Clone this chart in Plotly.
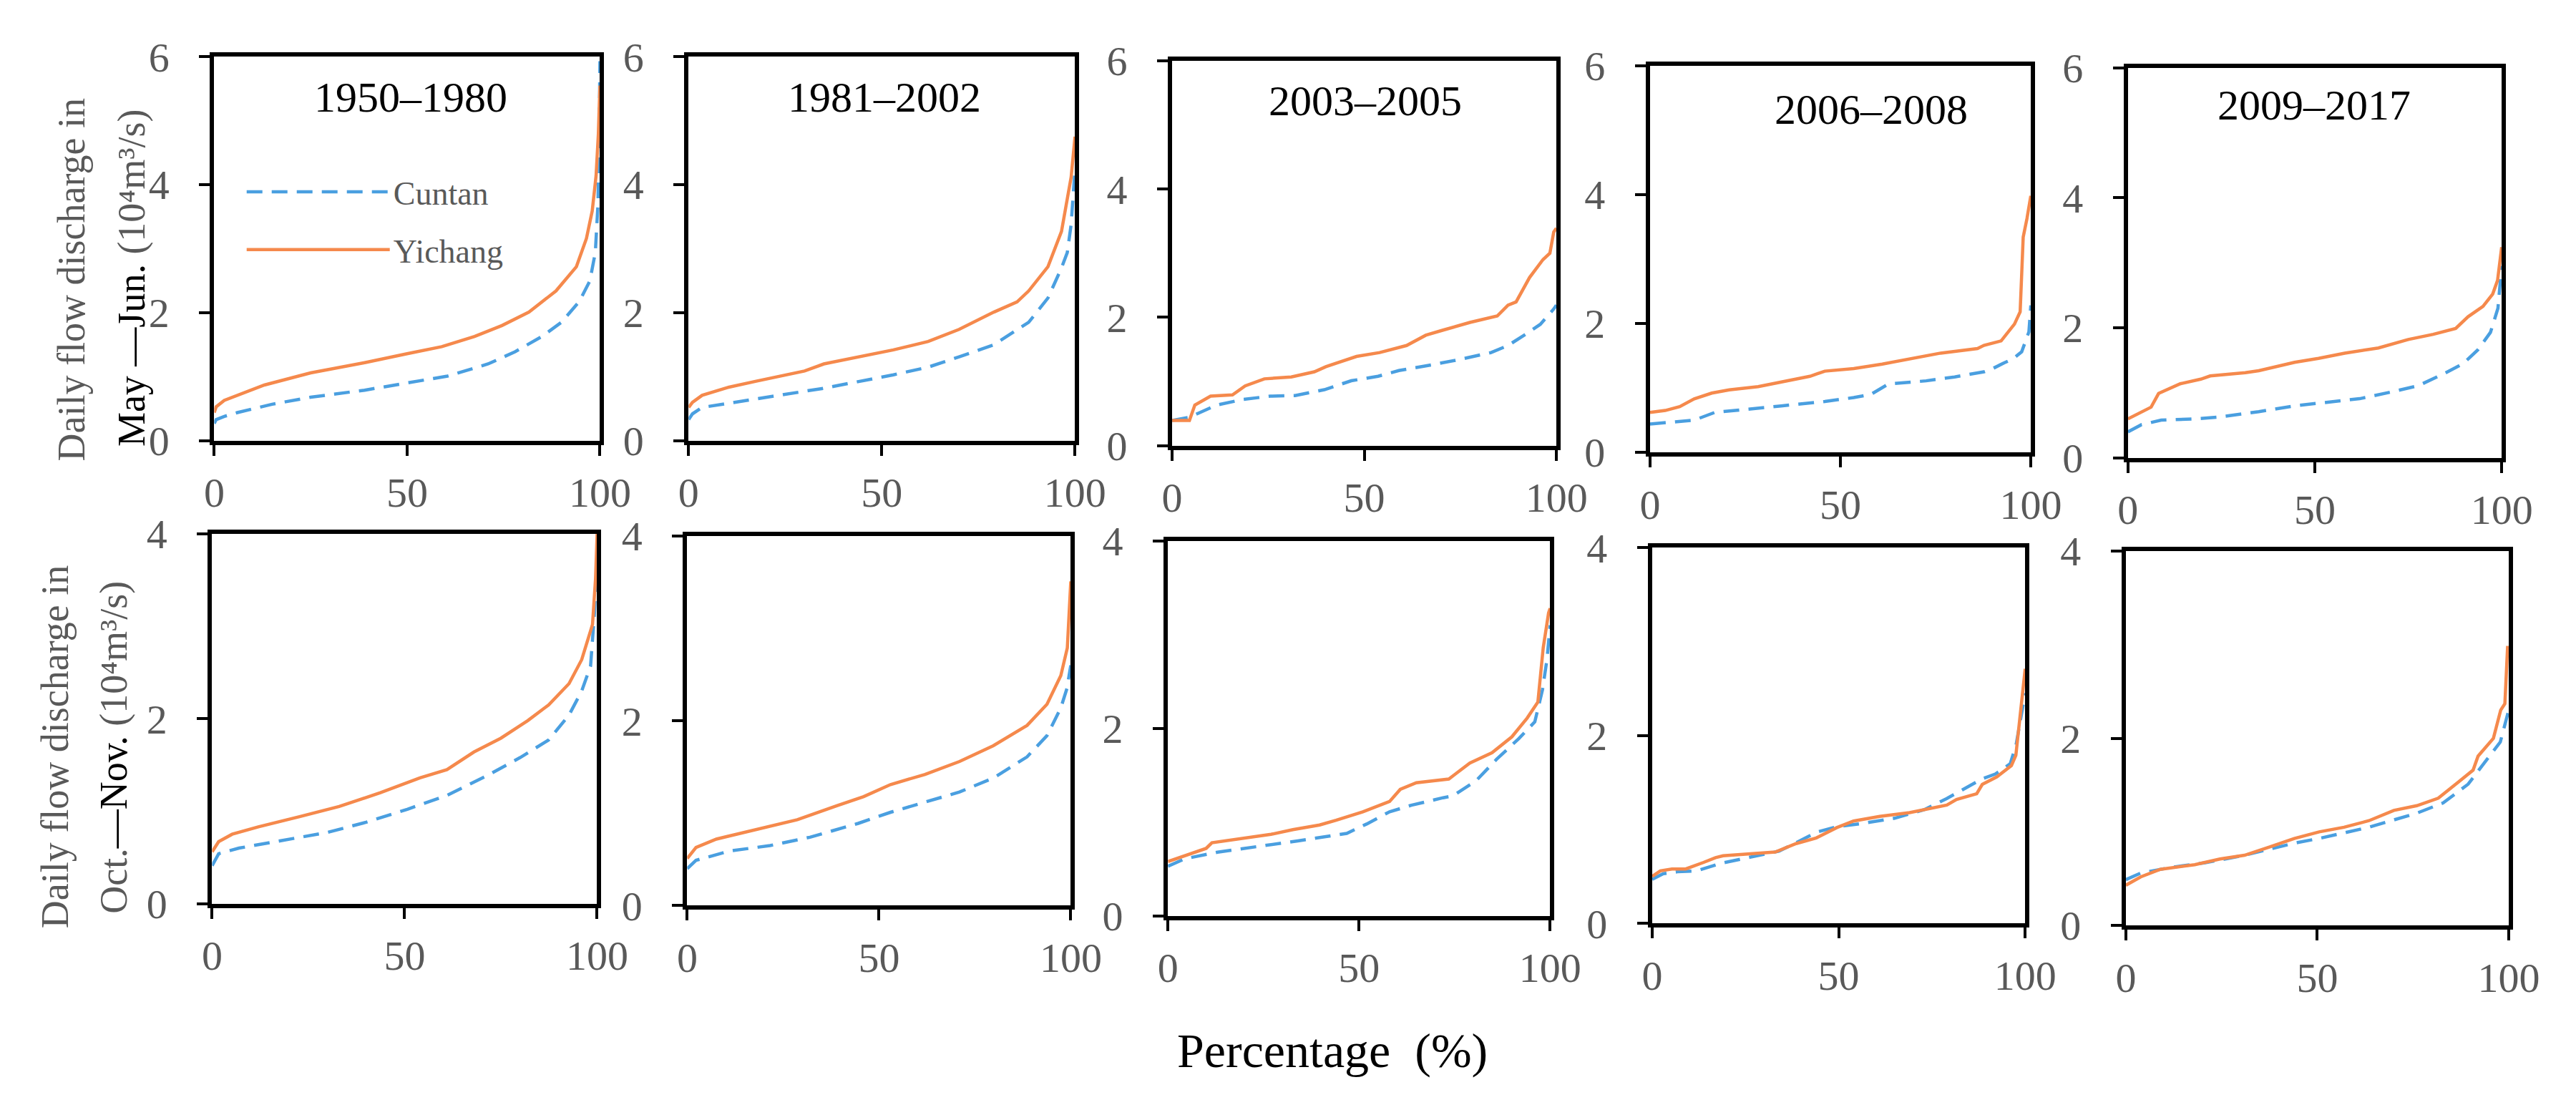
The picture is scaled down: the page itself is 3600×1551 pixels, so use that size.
import plotly.graph_objects as go

W, H = 3600, 1551

# ---------------- data (percentage of time, discharge in 10^4 m3/s) ----------------
periods = ["1950–1980", "1981–2002", "2003–2005", "2006–2008", "2009–2017"]
x_ticks = [0, 50, 100]
y_ticks_top = [0, 2, 4, 6]
y_ticks_bottom = [0, 2, 4]

# Row 1: May–Jun.
r1p1_y_x = [0, 0.5, 2.6, 6, 13, 25, 39, 50, 59, 67.5, 74.6, 81.6, 88.6, 93.9, 96.5, 98, 99, 99.6, 100]
r1p1_y_q = [0.44, 0.53, 0.63, 0.71, 0.87, 1.06, 1.22, 1.36, 1.47, 1.63, 1.80, 2.01, 2.34, 2.72, 3.16, 3.59, 4.14, 4.8, 5.55]
r1p1_c_x = [0, 0.5, 2.6, 6, 15, 25, 39, 50, 60.5, 71, 78, 85, 90, 94.7, 97.4, 98.8, 99.5, 99.8, 100]
r1p1_c_q = [0.27, 0.33, 0.38, 0.44, 0.57, 0.68, 0.79, 0.90, 1.01, 1.20, 1.39, 1.63, 1.85, 2.18, 2.50, 2.94, 3.70, 4.79, 5.93]

r1p2_y_x = [0, 1, 3.5, 10, 17.5, 30, 35, 45, 53, 62, 70, 79, 85, 88, 93, 96.5, 99, 100]
r1p2_y_q = [0.52, 0.6, 0.71, 0.83, 0.93, 1.09, 1.20, 1.32, 1.42, 1.55, 1.74, 2.01, 2.17, 2.34, 2.72, 3.27, 4.12, 4.75]
r1p2_c_x = [0, 1, 3.5, 10, 17.5, 35, 53, 62, 70, 79, 88, 93, 96.5, 98, 99, 100]
r1p2_c_q = [0.33, 0.42, 0.52, 0.58, 0.65, 0.82, 1.03, 1.15, 1.31, 1.50, 1.85, 2.23, 2.70, 2.94, 3.38, 4.25]

r1p3_y_x = [0, 4.5, 5.9, 10, 15.7, 19, 24, 31, 37, 40, 48, 54, 61, 66, 70.5, 77.5, 84.6, 87.4, 89.5, 93, 96.5, 98.3, 99.3, 100]
r1p3_y_q = [0.39, 0.39, 0.63, 0.77, 0.79, 0.93, 1.04, 1.07, 1.15, 1.23, 1.39, 1.45, 1.56, 1.72, 1.80, 1.92, 2.02, 2.19, 2.24, 2.62, 2.90, 3.00, 3.33, 3.39]
r1p3_c_x = [0, 4.5, 11.5, 18.5, 25.6, 32, 39.6, 46.6, 53.6, 59, 67.7, 74.7, 83, 87.4, 91.6, 95.8, 99.3, 100]
r1p3_c_q = [0.39, 0.44, 0.63, 0.72, 0.77, 0.78, 0.87, 1.01, 1.08, 1.17, 1.26, 1.34, 1.45, 1.56, 1.72, 1.89, 2.13, 2.19]

r1p4_y_x = [0, 4, 7.8, 11.6, 16.2, 20.8, 28.4, 34.4, 42, 45.9, 53.5, 61, 68.7, 76.3, 86, 87.7, 92.2, 93.4, 95.7, 97.2, 98, 99, 100]
r1p4_y_q = [0.62, 0.65, 0.71, 0.83, 0.92, 0.97, 1.02, 1.09, 1.18, 1.26, 1.30, 1.37, 1.45, 1.54, 1.61, 1.66, 1.73, 1.82, 1.99, 2.18, 3.34, 3.63, 3.98]
r1p4_c_x = [0, 11.6, 17, 26.8, 34.4, 45.9, 53.5, 58, 62.6, 72.5, 80, 87.7, 90, 93, 95.3, 97.6, 98.7, 99.5, 100]
r1p4_c_q = [0.44, 0.50, 0.62, 0.67, 0.72, 0.79, 0.85, 0.90, 1.06, 1.11, 1.17, 1.25, 1.30, 1.39, 1.45, 1.56, 1.75, 1.87, 2.28]

r1p5_y_x = [0, 3.6, 6.2, 8.2, 11.5, 14, 19.5, 22, 31.4, 35, 44.6, 51, 58, 67, 75, 81.7, 87.7, 91, 95, 97.6, 98.9, 100]
r1p5_y_q = [0.60, 0.70, 0.78, 0.99, 1.07, 1.14, 1.21, 1.26, 1.31, 1.34, 1.47, 1.53, 1.61, 1.69, 1.82, 1.90, 1.99, 2.17, 2.33, 2.52, 2.73, 3.24]
r1p5_c_x = [0, 3.6, 8.9, 18, 24.8, 35, 44.6, 51, 62, 71, 77.7, 84.4, 89.7, 93.6, 97, 99, 100]
r1p5_c_q = [0.40, 0.51, 0.58, 0.60, 0.63, 0.71, 0.80, 0.84, 0.91, 1.02, 1.11, 1.29, 1.45, 1.66, 1.93, 2.30, 2.95]

# Row 2: Oct.–Nov.
r2p1_y_x = [0, 1.7, 5.2, 12, 22.7, 33, 43.7, 54, 61, 68, 75, 82, 87.4, 92.7, 96, 98.8, 99.6, 100]
r2p1_y_q = [0.56, 0.67, 0.75, 0.83, 0.94, 1.05, 1.20, 1.36, 1.45, 1.64, 1.79, 1.98, 2.15, 2.38, 2.64, 3.02, 3.52, 4.0]
r2p1_c_x = [0, 1.7, 7, 19, 30, 40, 50.7, 61, 71.7, 80, 87.4, 92.7, 96, 98.3, 99.3, 100]
r2p1_c_q = [0.41, 0.54, 0.60, 0.69, 0.77, 0.88, 1.02, 1.17, 1.39, 1.58, 1.77, 2.04, 2.30, 2.57, 3.14, 3.75]

r2p2_y_x = [0, 2.3, 7.6, 18, 28.7, 39, 46, 53, 62, 71, 79.8, 88.6, 93.8, 97.4, 99.1, 100]
r2p2_y_q = [0.51, 0.63, 0.72, 0.82, 0.93, 1.08, 1.18, 1.31, 1.42, 1.56, 1.73, 1.95, 2.18, 2.49, 2.79, 3.51]
r2p2_c_x = [0, 2.3, 11, 21.6, 32, 44.6, 53, 62, 71, 79.8, 88.6, 93.8, 97.4, 99, 100]
r2p2_c_q = [0.40, 0.49, 0.59, 0.65, 0.74, 0.89, 1.01, 1.12, 1.23, 1.38, 1.61, 1.84, 2.14, 2.35, 2.6]

r2p3_y_x = [0, 4.5, 10, 11.5, 18.6, 27, 32.7, 39.7, 44, 51, 58, 60.8, 65, 73.5, 79, 84.8, 90, 94, 96.8, 98.2, 99.6, 100]
r2p3_y_q = [0.58, 0.64, 0.72, 0.78, 0.82, 0.87, 0.92, 0.97, 1.02, 1.11, 1.22, 1.35, 1.42, 1.46, 1.63, 1.74, 1.91, 2.11, 2.28, 2.86, 3.23, 3.28]
r2p3_c_x = [0, 4.5, 13, 24, 34, 46.8, 52, 58, 63.7, 72, 74.6, 80.6, 86, 91.8, 96, 98, 99.2, 100]
r2p3_c_q = [0.53, 0.61, 0.68, 0.74, 0.80, 0.88, 0.98, 1.11, 1.18, 1.26, 1.28, 1.44, 1.67, 1.89, 2.07, 2.41, 2.74, 3.1]

r2p4_y_x = [0, 2.2, 5.3, 9, 13.8, 17, 19, 26, 33, 38.6, 44, 49.5, 54, 61, 69, 79, 81.6, 87, 88.5, 92.4, 96.3, 97.5, 98.2, 99, 100]
r2p4_y_q = [0.50, 0.56, 0.58, 0.58, 0.65, 0.70, 0.72, 0.74, 0.76, 0.85, 0.91, 1.02, 1.09, 1.14, 1.18, 1.26, 1.32, 1.38, 1.48, 1.56, 1.68, 1.79, 2.06, 2.36, 2.71]
r2p4_c_x = [0, 3, 6.8, 12, 18.4, 26, 34, 38.6, 44, 49.5, 55.6, 65, 72.9, 79, 84, 88.5, 92, 96, 97.6, 99, 100]
r2p4_c_q = [0.47, 0.53, 0.55, 0.56, 0.64, 0.70, 0.77, 0.86, 0.97, 1.03, 1.06, 1.12, 1.21, 1.33, 1.44, 1.54, 1.59, 1.70, 1.91, 2.24, 2.45]

r2p5_y_x = [0, 3.9, 9, 18, 24.6, 31, 37.6, 44, 50.5, 57, 63.5, 70, 76, 81.6, 86.8, 90.7, 92, 96, 97.9, 99, 99.7, 100]
r2p5_y_q = [0.43, 0.52, 0.60, 0.65, 0.71, 0.75, 0.84, 0.93, 1.00, 1.05, 1.12, 1.23, 1.28, 1.36, 1.53, 1.66, 1.81, 2.00, 2.30, 2.37, 2.97, 2.97]
r2p5_c_x = [0, 3.9, 11.7, 20.7, 31, 44, 50.5, 63.5, 76, 82.9, 89.4, 94.6, 97.8, 100]
r2p5_c_q = [0.49, 0.56, 0.62, 0.67, 0.75, 0.88, 0.93, 1.05, 1.20, 1.31, 1.51, 1.78, 1.96, 2.30]

series = [
    [(r1p1_c_x, r1p1_c_q, r1p1_y_x, r1p1_y_q), (r1p2_c_x, r1p2_c_q, r1p2_y_x, r1p2_y_q),
     (r1p3_c_x, r1p3_c_q, r1p3_y_x, r1p3_y_q), (r1p4_c_x, r1p4_c_q, r1p4_y_x, r1p4_y_q),
     (r1p5_c_x, r1p5_c_q, r1p5_y_x, r1p5_y_q)],
    [(r2p1_c_x, r2p1_c_q, r2p1_y_x, r2p1_y_q), (r2p2_c_x, r2p2_c_q, r2p2_y_x, r2p2_y_q),
     (r2p3_c_x, r2p3_c_q, r2p3_y_x, r2p3_y_q), (r2p4_c_x, r2p4_c_q, r2p4_y_x, r2p4_y_q),
     (r2p5_c_x, r2p5_c_q, r2p5_y_x, r2p5_y_q)],
]

# ---------------- layout geometry (pixels: left, right, top, bottom) ----------------
boxes = [
    [(281, 829, 41, 601), (955, 1504, 41, 601), (1642, 2188, 47, 608), (2321, 2862, 54, 618), (3000, 3531, 57, 626)],
    [(278, 825, 737, 1276), (953, 1498, 740, 1279), (1636, 2179, 747, 1294), (2324, 2854, 757, 1305), (2997, 3541, 762, 1308)],
]
title_pos = [(560, 100), (1233, 100), (1916, 105), (2635, 118), (3265, 112)]

SERIF = "Liberation Serif, Times New Roman, serif"
GRAY = "#595959"
BLUE = "#4A9FE0"
ORANGE = "#F5894C"

fig = go.Figure()
layout = {}
idx = 0
for r in range(2):
    for c in range(5):
        idx += 1
        sfx = "" if idx == 1 else str(idx)
        cx, cq, yx, yq = series[r][c]
        first = (idx == 1)
        fig.add_trace(go.Scatter(x=cx, y=cq, mode="lines", name="Cuntan",
                                 line=dict(color=BLUE, width=4.5, dash="22px,13px"),
                                 xaxis="x" + sfx, yaxis="y" + sfx, showlegend=first,
                                 legendgroup="c", legendrank=1))
        fig.add_trace(go.Scatter(x=yx, y=yq, mode="lines", name="Yichang",
                                 line=dict(color=ORANGE, width=4.5),
                                 xaxis="x" + sfx, yaxis="y" + sfx, showlegend=first,
                                 legendgroup="y", legendrank=2))
        x0, x1, y0, y1 = boxes[r][c]
        common = dict(showline=True, linewidth=6, linecolor="black", mirror=True,
                      ticks="outside", ticklen=15, tickwidth=4, tickcolor="black",
                      showgrid=False, zeroline=False,
                      tickfont=dict(family=SERIF, size=58, color=GRAY))
        layout["xaxis" + sfx] = dict(domain=[x0 / W, x1 / W], range=[0, 100],
                                     tickvals=x_ticks, anchor="y" + sfx,
                                     ticklabelstandoff=2, **common)
        layout["yaxis" + sfx] = dict(domain=[(H - y1) / H, (H - y0) / H],
                                     range=[0, 6] if r == 0 else [0, 4],
                                     tickvals=y_ticks_top if r == 0 else y_ticks_bottom,
                                     anchor="x" + sfx, ticklabelstandoff=30, **common)

annotations = []
for (tx, ty), txt in zip(title_pos, periods):
    annotations.append(dict(text=txt, x=tx / W, y=1 - ty / H, xref="paper", yref="paper",
                            showarrow=False, xanchor="center", yanchor="middle",
                            font=dict(family=SERIF, size=60, color="black")))

ytitle = [
    (78, 366, "Daily flow discharge in"),
    (163, 363, "<span style='color:black'>May —Jun.</span> (10⁴m³/s)"),
    (55, 1048, "Daily flow discharge in"),
    (138, 1048, "Oct.<span style='color:black'>—Nov.</span> (10⁴m³/s)"),
]
for tx, ty, txt in ytitle:
    annotations.append(dict(text=txt, x=tx / W, y=1 - ty / H, xref="paper", yref="paper",
                            showarrow=False, xanchor="center", yanchor="middle", textangle=-90,
                            font=dict(family=SERIF, size=54, color=GRAY)))

annotations.append(dict(text="Percentage\u00a0\u00a0(%)", x=1870 / W, y=1 - 1490 / H,
                        xref="paper", yref="paper", showarrow=False,
                        xanchor="center", yanchor="middle",
                        font=dict(family=SERIF, size=68, color="black")))

fig.update_layout(
    width=W, height=H, margin=dict(l=0, r=0, t=0, b=0),
    paper_bgcolor="white", plot_bgcolor="white",
    annotations=annotations,
    legend=dict(x=322 / W, y=1 - 200 / H, xanchor="left", yanchor="top",
                bgcolor="rgba(0,0,0,0)", itemwidth=200, tracegroupgap=18,
                font=dict(family=SERIF, size=46, color=GRAY)),
    **layout,
)

fig.write_html("out.html")
